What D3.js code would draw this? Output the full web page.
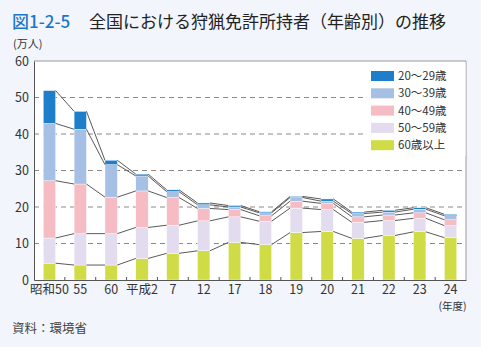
<!DOCTYPE html>
<html lang="ja">
<head>
<meta charset="utf-8">
<script src="https://cdn.jsdelivr.net/npm/d3@7"></script>
<style>
  html, body { margin: 0; padding: 0; background: #f2f5fb; }
  svg { display: block; font-family: "Noto Sans CJK JP", "Noto Sans", sans-serif; }
</style>
</head>
<body>
<svg id="chart" width="481" height="347"></svg>
<script>
// 年度ラベル
const categories = ["昭和50", "55", "60", "平成2", "7", "12", "17", "18", "19", "20", "21", "22", "23", "24"];
// 年齢階層別の狩猟免許所持者数（万人）
const age60plus = [4.6, 4.1, 4.1, 5.9, 7.3, 8.0, 10.3, 9.7, 13.0, 13.3, 11.4, 12.2, 13.2, 11.6];
const age50s    = [6.9, 8.6, 8.6, 8.5, 7.7, 8.2, 7.0, 6.4, 6.7, 6.0, 4.4, 4.1, 3.7, 3.3];
const age40s    = [15.7, 13.6, 10.0, 10.0, 7.6, 3.4, 2.0, 1.5, 1.9, 1.7, 1.5, 1.5, 1.5, 1.6];
const age30s    = [15.7, 15.0, 8.9, 4.1, 1.6, 1.0, 0.7, 0.8, 1.0, 0.6, 0.9, 0.8, 1.0, 1.1];
const age20s    = [9.0, 4.9, 1.2, 0.5, 0.5, 0.5, 0.4, 0.3, 0.3, 0.6, 0.4, 0.5, 0.4, 0.4];
const yTicks = [0, 10, 20, 30, 40, 50, 60];

// 積み上げ順（下から）
const seriesDefs = [
  { key: "s60", label: "60歳以上", values: age60plus, color: "#cfdc45" },
  { key: "s50", label: "50～59歳", values: age50s, color: "#e3dcee" },
  { key: "s40", label: "40～49歳", values: age40s, color: "#f6bcc3" },
  { key: "s30", label: "30～39歳", values: age30s, color: "#a6bfe4" },
  { key: "s20", label: "20～29歳", values: age20s, color: "#1f7ec9" }
];

(function draw() {
  const rows = categories.map((c, i) => {
    const r = { cat: c };
    seriesDefs.forEach(s => { r[s.key] = s.values[i]; });
    return r;
  });
  const stacked = d3.stack().keys(seriesDefs.map(s => s.key))(rows);

  const svg = d3.select("#chart");
  const plotL = 34, plotR = 466, plotT = 61, plotB = 280;

  const x = d3.scaleBand().domain(categories).range([plotL, plotR]).paddingInner(0.6).paddingOuter(0.3);
  const y = d3.scaleLinear().domain([0, 60]).range([plotB, plotT]);

  // タイトル
  const title = svg.append("text").attr("x", 12).attr("y", 28).attr("font-size", 17);
  title.append("tspan").attr("fill", "#1b78c8").attr("font-weight", 500).text("図1-2-5");
  title.append("tspan").attr("x", 89).attr("fill", "#222").text("全国における狩猟免許所持者（年齢別）の推移");

  // 単位
  svg.append("text").attr("x", 13).attr("y", 48).attr("font-size", 11).attr("fill", "#333").text("(万人)");

  // プロット領域
  svg.append("rect").attr("x", plotL).attr("y", plotT).attr("width", plotR - plotL).attr("height", plotB - plotT).attr("fill", "#fff");

  // 目盛り線（破線）
  svg.append("g").selectAll("line").data(yTicks.filter(v => v > 0 && v < 60)).join("line")
    .attr("x1", plotL).attr("x2", plotR)
    .attr("y1", d => y(d)).attr("y2", d => y(d))
    .attr("stroke", "#8a8a8a").attr("stroke-width", 1).attr("stroke-dasharray", "5,4");

  // 枠線（上・右）
  svg.append("path")
    .attr("d", `M${plotL},${y(60)}H${plotR}V${plotB}`)
    .attr("fill", "none").attr("stroke", "#9a9a9a").attr("stroke-width", 1);

  // 積み上げ棒
  const layer = svg.append("g").selectAll("g").data(stacked).join("g")
    .attr("fill", (d, i) => seriesDefs[i].color);
  layer.selectAll("rect").data(d => d).join("rect")
    .attr("x", d => x(d.data.cat))
    .attr("width", x.bandwidth())
    .attr("y", d => y(d[1]))
    .attr("height", d => y(d[0]) - y(d[1]))
    .attr("stroke", "#ffffff").attr("stroke-width", 0.4);

  // 区分線（各系列の上端を結ぶ）
  const linesG = svg.append("g").attr("stroke", "#5a5a5a").attr("stroke-width", 1).attr("fill", "none");
  stacked.forEach(s => {
    for (let i = 0; i < s.length - 1; i++) {
      linesG.append("line")
        .attr("x1", x(categories[i]) + x.bandwidth()).attr("y1", y(s[i][1]))
        .attr("x2", x(categories[i + 1])).attr("y2", y(s[i + 1][1]));
    }
  });

  // 凡例
  const legendG = svg.append("g");
  legendG.append("rect").attr("x", 363).attr("y", plotT + 1).attr("width", plotR - 363 - 0.5).attr("height", 94).attr("fill", "#fff");
  const legendOrder = seriesDefs.slice().reverse();
  legendOrder.forEach((s, i) => {
    const cy = 76 + i * 17.3;
    legendG.append("rect").attr("x", 371).attr("y", cy - 5).attr("width", 23).attr("height", 10).attr("fill", s.color);
    legendG.append("text").attr("x", 398).attr("y", cy).attr("dy", "0.36em")
      .attr("font-size", 11.5).attr("fill", "#333").text(s.label);
  });

  // Y軸
  const yAxis = svg.append("g").attr("transform", `translate(${plotL},0)`)
    .call(d3.axisLeft(y).tickValues(yTicks).tickSize(0).tickPadding(5));
  yAxis.select(".domain").attr("stroke", "#555");
  yAxis.selectAll("text").attr("font-size", 12.5).attr("fill", "#333").attr("font-family", "\"Noto Sans CJK JP\", sans-serif");

  // X軸
  const xAxis = svg.append("g").attr("transform", `translate(0,${plotB})`)
    .call(d3.axisBottom(x).tickSize(0).tickPadding(5));
  xAxis.select(".domain").attr("stroke", "#555");
  xAxis.selectAll("text").attr("font-size", 12.5).attr("fill", "#333").attr("font-family", "\"Noto Sans CJK JP\", sans-serif");
  // 区切り目盛り
  const gap = x.step() - x.bandwidth();
  const bounds = categories.slice(1).map(c => x(c) - gap / 2);
  svg.append("g").selectAll("line").data(bounds).join("line")
    .attr("x1", d => d).attr("x2", d => d)
    .attr("y1", plotB).attr("y2", plotB - 3)
    .attr("stroke", "#555").attr("stroke-width", 1);

  // 年度単位
  svg.append("text").attr("x", x("24") + x.bandwidth() / 2 + 2).attr("y", 309.5).attr("text-anchor", "middle")
    .attr("font-size", 10.5).attr("fill", "#333").text("(年度)");

  // 出典
  svg.append("text").attr("x", 12).attr("y", 333).attr("font-size", 12.5).attr("fill", "#444").text("資料：環境省");
})();
</script>
</body>
</html>
